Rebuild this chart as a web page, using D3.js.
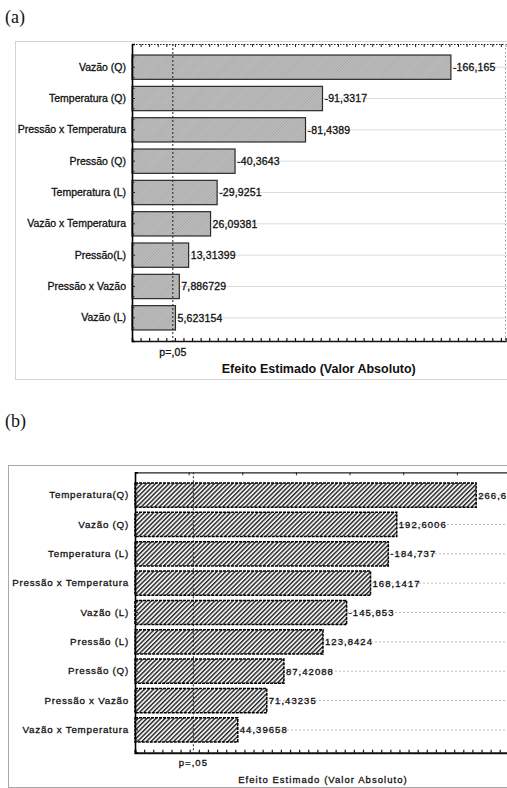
<!DOCTYPE html>
<html>
<head>
<meta charset="utf-8">
<script src="https://cdn.jsdelivr.net/npm/d3@7"></script>
<style>
  html, body { margin: 0; padding: 0; background: #fff; }
  svg { display: block; }
  text { font-family: "Liberation Sans", Arial, sans-serif; }
  .heavy { stroke: #111; stroke-width: 0.3px; }
</style>
</head>
<body>
<script>
// Pareto charts of standardized effects (two panels)
const categoriesA = ["Vazão (Q)", "Temperatura (Q)", "Pressão x Temperatura", "Pressão (Q)",
  "Temperatura (L)", "Vazão x Temperatura", "Pressão(L)", "Pressão x Vazão", "Vazão (L)"];
const valuesA = [-166.165, -91.3317, -81.4389, -40.3643, -29.9251, 26.09381, 13.31399, 7.886729, 5.623154];
const pLimitA = 4.1;

const categoriesB = ["Temperatura(Q)", "Vazão (Q)", "Temperatura (L)", "Pressão x Temperatura",
  "Vazão (L)", "Pressão (L)", "Pressão (Q)", "Pressão x Vazão", "Vazão x Temperatura"];
const valuesB = [266.6, 192.6006, -184.737, 168.1417, -145.853, 123.8424, 87.42088, 71.43235, 44.39658];
const pLimitB = 3.0;

const pLabel = "p=,05";
const axisTitle = "Efeito Estimado (Valor Absoluto)";

const W = 507, H = 788;
const svg = d3.select("body").append("svg").attr("width", W).attr("height", H);
svg.append("rect").attr("width", W).attr("height", H).attr("fill", "#fff");

const defs = svg.append("defs");
// fine grey texture for panel (a)
const patA = defs.append("pattern").attr("id", "texA").attr("patternUnits", "userSpaceOnUse")
  .attr("width", 2).attr("height", 2).attr("patternTransform", "rotate(45)");
patA.append("rect").attr("width", 2).attr("height", 2).attr("fill", "#c2c2c2");
patA.append("rect").attr("width", 1).attr("height", 2).attr("fill", "#a9a9a9");
// diagonal hatching for panel (b)
const patB = defs.append("pattern").attr("id", "hatchB").attr("patternUnits", "userSpaceOnUse")
  .attr("width", 3.2).attr("height", 3.2).attr("patternTransform", "rotate(45)");
patB.append("rect").attr("width", 3.2).attr("height", 3.2).attr("fill", "#f0f0f0");
patB.append("rect").attr("width", 1.4).attr("height", 3.2).attr("fill", "#262626");

const fmt = v => String(v).replace(".", ",");

function panel(cfg) {
  const g = svg.append("g");
  // panel letter
  g.append("text").attr("x", cfg.letterX).attr("y", cfg.letterY)
    .style("font-family", "'Liberation Serif', 'Times New Roman', serif")
    .style("font-size", "18px").attr("fill", "#111").text(cfg.letter);
  // outer frame
  g.append("rect").attr("x", cfg.frame[0]).attr("y", cfg.frame[1])
    .attr("width", cfg.frame[2]).attr("height", cfg.frame[3])
    .attr("fill", "none").attr("stroke", cfg.frameColor).attr("stroke-width", 1);

  const x = d3.scaleLinear().domain(cfg.xDomain).range([cfg.left, cfg.right]);
  const y = d3.scaleBand().domain(cfg.categories).range([cfg.top, cfg.bottom])
    .paddingInner(cfg.padInner).paddingOuter(cfg.padOuter);

  const clipId = "clip" + cfg.letter.replace(/\W/g, "");
  defs.append("clipPath").attr("id", clipId).append("rect")
    .attr("x", 0).attr("y", cfg.top - 20).attr("width", W).attr("height", cfg.bottom - cfg.top + 40);

  // horizontal grid lines through bar centres
  g.append("g").selectAll("line").data(cfg.categories).join("line")
    .attr("x1", cfg.left).attr("x2", W)
    .attr("y1", d => y(d) + y.bandwidth() / 2).attr("y2", d => y(d) + y.bandwidth() / 2)
    .attr("stroke", cfg.gridColor).attr("stroke-width", 1)
    .attr("stroke-dasharray", cfg.gridDash);

  // bars
  const data = cfg.categories.map((c, i) => ({ c, v: cfg.values[i] }));
  g.append("g").selectAll("rect").data(data).join("rect")
    .attr("x", x(cfg.xDomain[0]))
    .attr("y", d => y(d.c))
    .attr("width", d => x(Math.abs(d.v)) - x(cfg.xDomain[0]))
    .attr("height", y.bandwidth())
    .attr("fill", cfg.barFill)
    .attr("stroke", cfg.barStroke).attr("stroke-width", cfg.barStrokeW)
    .attr("stroke-dasharray", cfg.barDash);

  // p = .05 reference line
  g.append("line").attr("x1", x(cfg.pLimit)).attr("x2", x(cfg.pLimit))
    .attr("y1", cfg.top).attr("y2", cfg.bottom)
    .attr("stroke", "#222").attr("stroke-width", 1).attr("stroke-dasharray", "2,2");

  // value labels
  g.append("g").attr("clip-path", `url(#${clipId})`).selectAll("text").data(data).join("text")
    .attr("class", "heavy")
    .attr("x", d => x(Math.abs(d.v)) + 2)
    .attr("y", d => y(d.c) + y.bandwidth() / 2 + cfg.valueFont * 0.36)
    .style("font-size", cfg.valueFont + "px")
    .style("letter-spacing", cfg.valueSpacing + "px")
    .attr("fill", "#111")
    .text(d => fmt(d.v));

  // top axis (dotted line with ticks)
  const top = g.append("g").attr("transform", `translate(0,${cfg.top})`)
    .call(d3.axisTop(x).tickValues(d3.range(cfg.xDomain[0], cfg.xDomain[1], cfg.topStep))
      .tickSize(-3).tickFormat(""));
  top.select(".domain").attr("stroke", "#222").attr("stroke-dasharray", cfg.topDash).attr("stroke-width", 1.2);
  top.selectAll(".tick line").attr("stroke", "#222");

  // bottom axis
  const bot = g.append("g").attr("transform", `translate(0,${cfg.bottom})`)
    .call(d3.axisBottom(x).tickValues(d3.range(cfg.xDomain[0], cfg.xDomain[1], cfg.bottomStep))
      .tickSize(-3).tickFormat(""));
  bot.select(".domain").attr("stroke", "#111").attr("stroke-width", cfg.bottomW);
  bot.selectAll(".tick line").attr("stroke", "#111").attr("stroke-width", 1.2);

  // right border
  g.append("line").attr("x1", cfg.right).attr("x2", cfg.right)
    .attr("y1", cfg.top).attr("y2", cfg.bottom)
    .attr("stroke", "#999").attr("stroke-dasharray", "1.5,2.5");

  // left axis with category labels
  const left = g.append("g").attr("transform", `translate(${cfg.left},0)`)
    .call(d3.axisLeft(y).tickSize(-3).tickPadding(cfg.labelPad));
  left.select(".domain").attr("stroke", "#000").attr("stroke-width", 1.6);
  left.selectAll(".tick line").attr("stroke", "#222");
  left.selectAll(".tick text")
    .attr("class", "heavy")
    .style("font-family", "'Liberation Sans', Arial, sans-serif")
    .style("font-size", cfg.labelFont + "px")
    .style("letter-spacing", cfg.labelSpacing + "px")
    .attr("fill", "#111");
  // minor ticks at bar edges
  g.append("g").selectAll("line").data(cfg.categories.flatMap(c => [y(c) + 2, y(c) + y.bandwidth() - 2]))
    .join("line").attr("x1", cfg.left).attr("x2", cfg.left + 2.5)
    .attr("y1", d => d).attr("y2", d => d).attr("stroke", "#222");

  // p label
  g.append("text").attr("class", "heavy").attr("x", x(cfg.pLimit)).attr("y", cfg.pLabelY)
    .attr("text-anchor", "middle")
    .style("font-size", cfg.pFont + "px").style("letter-spacing", cfg.valueSpacing + "px")
    .attr("fill", "#111").text(pLabel);

  // axis title
  g.append("text").attr("class", cfg.titleWeight === "bold" ? null : "heavy")
    .attr("x", (cfg.left + cfg.right) / 2 + cfg.titleDx).attr("y", cfg.titleY)
    .attr("text-anchor", "middle")
    .style("font-size", cfg.titleFont + "px")
    .style("font-weight", cfg.titleWeight)
    .style("letter-spacing", cfg.titleSpacing + "px")
    .attr("fill", "#111").text(axisTitle);
}

panel({
  letter: "(a)", letterX: 5, letterY: 23,
  frame: [15.5, 41.5, 520, 338], frameColor: "#d4d4d4",
  categories: categoriesA, values: valuesA, pLimit: pLimitA,
  xDomain: [-19.7, 198], left: 132, right: 505.5, top: 44, bottom: 341,
  padInner: 0.224, padOuter: 0.352,
  gridColor: "#dcdcdc", gridDash: null,
  barFill: "url(#texA)", barStroke: "#2a2a2a", barStrokeW: 1.2, barDash: null,
  valueFont: 10.5, valueSpacing: 0.15,
  topStep: 5, topDash: "1.5,1.5", bottomStep: 5, bottomW: 1.5,
  labelFont: 10.5, labelSpacing: 0, labelPad: 6,
  pFont: 10.5, pLabelY: 356,
  titleFont: 12.5, titleWeight: "bold", titleSpacing: 0, titleY: 373, titleDx: 0
});

panel({
  letter: "(b)", letterX: 5, letterY: 427,
  frame: [8.5, 465.5, 520, 322], frameColor: "#a8a8a8",
  categories: categoriesB, values: valuesB, pLimit: pLimitB,
  xDomain: [-51.4, 302.8], left: 135, right: 515, top: 472.3, bottom: 752.7,
  padInner: 0.175, padOuter: 0.364,
  gridColor: "#bdbdbd", gridDash: "2,2",
  barFill: "url(#hatchB)", barStroke: "#000", barStrokeW: 1.5, barDash: "3,1",
  valueFont: 9.5, valueSpacing: 1.05,
  topStep: 50, topDash: null, bottomStep: 8.5, bottomW: 2,
  labelFont: 9.8, labelSpacing: 0.75, labelPad: 6,
  pFont: 9.5, pLabelY: 766,
  titleFont: 9.5, titleWeight: "normal", titleSpacing: 1.05, titleY: 783, titleDx: -2
});
</script>
</body>
</html>
